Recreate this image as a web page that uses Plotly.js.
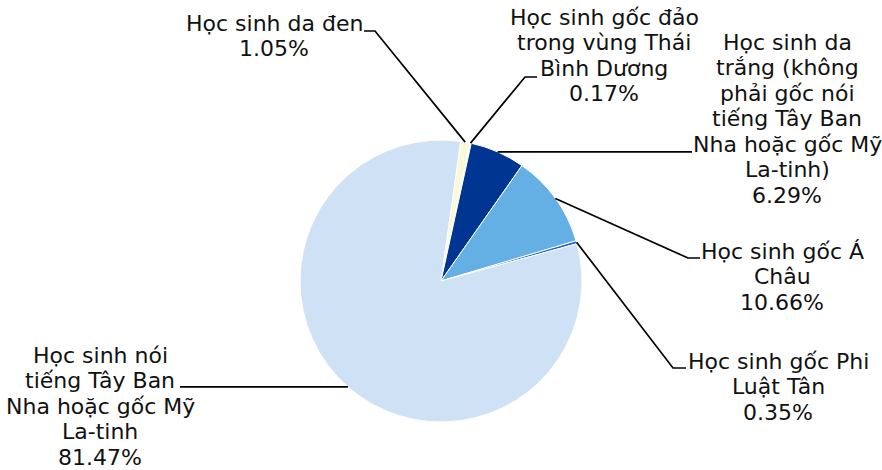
<!DOCTYPE html>
<html><head><meta charset="utf-8">
<script src="https://cdn.plot.ly/plotly-3.0.1.min.js"></script>
<style>html,body{margin:0;padding:0;background:#fff}#chart{width:882px;height:470px}</style>
</head><body><div id="chart"></div>
<script>
const categories = [
  "Học sinh da đen",
  "Học sinh gốc đảo trong vùng Thái Bình Dương",
  "Học sinh da trắng (không phải gốc nói tiếng Tây Ban Nha hoặc gốc Mỹ La-tinh)",
  "Học sinh gốc Á Châu",
  "Học sinh gốc Phi Luật Tân",
  "Học sinh nói tiếng Tây Ban Nha hoặc gốc Mỹ La-tinh"
];
const labelLines = [
  ["Học sinh da đen"],
  ["Học sinh gốc đảo", "trong vùng Thái", "Bình Dương"],
  ["Học sinh da", "trắng (không", "phải gốc nói", "tiếng Tây Ban", "Nha hoặc gốc Mỹ", "La-tinh)"],
  ["Học sinh gốc Á", "Châu"],
  ["Học sinh gốc Phi", "Luật Tân"],
  ["Học sinh nói", "tiếng Tây Ban", "Nha hoặc gốc Mỹ", "La-tinh"]
];
const values = [1.05, 0.17, 6.29, 10.66, 0.35, 81.47];
const colors = ["#FAFAD8", "#FFFFFF", "#003591", "#64B0E4", "#2C68CC", "#CFE2F5"];

// layout geometry (pixels)
const W = 882, H = 470, CX = 441, CY = 281, R = 141, ROT = 8;
const labelAt = [
  {cx: 274, base: 31}, {cx: 604, base: 25}, {cx: 787, base: 50},
  {cx: 782, base: 259}, {cx: 778, base: 369}, {cx: 100, base: 363}
];
const lineGap = 25.5;
const leaderPts = [
  [[375, 31], [364, 31]],
  [[525, 77], [537, 77]],
  [[692, null]],
  [[688, 258], [700, 258]],
  [[673, 368], [686, 368]],
  [[180, null]]
];
const FONT = {family: "DejaVu Sans, Verdana, sans-serif", size: 22, color: "#111"};

const px = x => x / W, py = y => 1 - y / H;
const total = values.reduce((a, b) => a + b, 0);
const annotations = [], shapes = [];
let cum = 0;
values.forEach((v, i) => {
  const mid = (ROT + (cum + v / 2) / total * 360) * Math.PI / 180;
  cum += v;
  const sx = CX + R * Math.sin(mid), sy = CY - R * Math.cos(mid);
  let d = `M${px(sx)},${py(sy)}`;
  leaderPts[i].forEach(p => { d += ` L${px(p[0])},${py(p[1] === null ? sy : p[1])}`; });
  shapes.push({type: "path", xref: "paper", yref: "paper", path: d, line: {color: "#000", width: 1.7}});
  const lines = labelLines[i].concat([v.toFixed(2) + "%"]);
  lines.forEach((t, k) => {
    const base = labelAt[i].base + k * lineGap;
    annotations.push({
      xref: "paper", yref: "paper", x: px(labelAt[i].cx), y: py(base - 7.6),
      xanchor: "center", yanchor: "middle", text: t, showarrow: false, font: FONT
    });
  });
});

const data = [{
  type: "pie", labels: categories, values: values, sort: false,
  direction: "clockwise", rotation: ROT, textinfo: "none", hoverinfo: "label+percent",
  marker: {colors: colors, line: {color: "#FFFFFF", width: 1}},
  domain: {x: [(CX - R) / W, (CX + R) / W], y: [1 - (CY + R) / H, 1 - (CY - R) / H]},
  showlegend: false
}];
const layout = {
  width: W, height: H, margin: {l: 0, r: 0, t: 0, b: 0},
  paper_bgcolor: "#fff", plot_bgcolor: "#fff", showlegend: false,
  annotations: annotations, shapes: shapes
};
Plotly.newPlot("chart", data, layout, {displayModeBar: false, staticPlot: true});
</script></body></html>
